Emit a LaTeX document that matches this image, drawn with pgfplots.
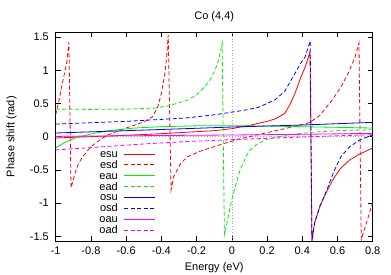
\documentclass[border=0pt]{standalone}
\usepackage{fontspec}
\setmainfont{Liberation Sans}
\usepackage{pgfplots}
\pgfplotsset{compat=1.18}
\definecolor{cR}{RGB}{255,0,0}
\definecolor{cG}{RGB}{0,238,0}
\definecolor{cB}{RGB}{0,0,255}
\definecolor{cM}{RGB}{255,0,255}
\begin{document}
\fontsize{11}{13}\selectfont
\begin{tikzpicture}
\useasboundingbox (-55.7pt,-33pt) rectangle (335.3pt,241pt);
\begin{axis}[
  scale only axis, width=317pt, height=208.7pt,
  xmin=-1, xmax=0.8, ymin=-1.5708, ymax=1.5708,
  xtick={-1,-0.8,-0.6,-0.4,-0.2,0,0.2,0.4,0.6,0.8},
  ytick={-1.5,-1,-0.5,0,0.5,1,1.5},
  tick align=inside, major tick length=5pt,
  minor tick num=0,
  /pgf/number format/assume math mode=true,
  tick label style={font=\fontsize{11}{13}\selectfont},
  xticklabel style={yshift=-2pt},
  yticklabel style={xshift=-3pt},
  axis line style={line width=0.8pt},
  tick style={line width=0.6pt, black},
  xlabel={Energy (eV)},
  ylabel={Phase shift (rad)},
  xlabel style={at={(axis description cs:0.5,-0.128)}, anchor=center},
  ylabel style={at={(axis description cs:-0.139,0.5)}, anchor=center},
  every axis plot/.append style={line width=0.8pt},
  clip=true,
]
\addplot[draw=gray!70, dotted, line width=0.6pt, forget plot] coordinates {(-1,0) (0.8,0)};
\addplot[draw=gray!70, dotted, line width=0.6pt, forget plot] coordinates {(0,-1.5708) (0,1.5708)};
% esu
\addplot[draw=cR] coordinates {
(-1,-0.02) (-0.8,0.0) (-0.6,0.02) (-0.4,0.045) (-0.265,0.065) (-0.1,0.09) (0,0.12) (0.1,0.17) (0.2,0.23)
(0.25,0.27) (0.3,0.35) (0.33,0.48) (0.36,0.66) (0.39,0.88) (0.42,1.07) (0.444,1.28)
(0.455,-1.57) (0.47,-1.3) (0.5,-1.05) (0.54,-0.82) (0.58,-0.62) (0.62,-0.47) (0.67,-0.35) (0.72,-0.27) (0.8,-0.17)};
% esd
\addplot[draw=cR, dash pattern=on 4pt off 2.5pt] coordinates {
(-1,0.33) (-0.985,0.5) (-0.966,0.755) (-0.938,1.105) (-0.925,1.42) (-0.913,-0.77)
(-0.89,-0.55) (-0.87,-0.4) (-0.84,-0.28) (-0.8,-0.15) (-0.75,-0.05) (-0.7,0.03) (-0.6,0.13) (-0.5,0.22)
(-0.45,0.3) (-0.42,0.45) (-0.4,0.65) (-0.38,0.95) (-0.37,1.2) (-0.361,1.53) (-0.345,-0.8)
(-0.33,-0.6) (-0.31,-0.5) (-0.29,-0.4) (-0.25,-0.3) (-0.18,-0.22) (-0.1,-0.15) (-0.04,-0.1) (0.05,-0.03)
(0.19,0.055) (0.3,0.12) (0.44,0.21) (0.5,0.32) (0.53,0.42) (0.57,0.55) (0.62,0.75) (0.66,0.95) (0.7,1.2) (0.722,1.41)
(0.735,-1.55) (0.77,-1.25) (0.8,-0.99)};
% eau
\addplot[draw=cG] coordinates {
(-1,-0.17) (-0.95,-0.09) (-0.89,-0.02) (-0.8,0.04) (-0.7,0.09) (-0.55,0.13) (-0.4,0.15) (-0.2,0.163)
(0,0.165) (0.2,0.16) (0.5,0.145) (0.8,0.13)};
% ead
\addplot[draw=cG, dash pattern=on 4pt off 2.5pt] coordinates {
(-1,0.415) (-0.8,0.41) (-0.6,0.415) (-0.436,0.43) (-0.35,0.47) (-0.247,0.555) (-0.2,0.63) (-0.152,0.755)
(-0.12,0.87) (-0.095,1.0) (-0.075,1.15) (-0.055,1.405) (-0.042,-1.47) (-0.02,-1.2) (0.0,-0.945) (0.02,-0.75)
(0.047,-0.5) (0.085,-0.28) (0.103,-0.2) (0.15,-0.1) (0.2,-0.04) (0.3,0.02) (0.45,0.065) (0.6,0.09) (0.8,0.105)};
% osu
\addplot[draw=cB] coordinates {
(-1,0.055) (-0.6,0.09) (-0.265,0.12) (0,0.145) (0.4,0.175) (0.8,0.215)};
% osd
\addplot[draw=cB, dash pattern=on 4pt off 2.5pt] coordinates {
(-1,0.19) (-0.6,0.23) (-0.265,0.28) (-0.095,0.33) (0.076,0.4) (0.15,0.44) (0.245,0.555) (0.3,0.68)
(0.359,0.955) (0.39,1.1) (0.416,1.2) (0.445,1.44) (0.455,-1.57) (0.47,-1.3) (0.5,-1.05) (0.54,-0.8)
(0.58,-0.52) (0.62,-0.3) (0.67,-0.15) (0.72,-0.06) (0.8,0.03)};
% oau
\addplot[draw=cM] coordinates {
(-1,0.005) (-0.5,0.015) (0,0.025) (0.4,0.035) (0.8,0.05)};
% oad
\addplot[draw=cM, dash pattern=on 4pt off 2.5pt] coordinates {
(-1,-0.2) (-0.5,-0.11) (-0.265,-0.075) (0,-0.045) (0.4,-0.005) (0.8,0.03)};
% legend samples
\addplot[draw=cR, line width=1pt] coordinates {(-0.612,-0.262) (-0.436,-0.262)};
\addplot[draw=cR, line width=1pt, dash pattern=on 4pt off 2.5pt] coordinates {(-0.612,-0.426) (-0.436,-0.426)};
\addplot[draw=cG, line width=1pt] coordinates {(-0.612,-0.589) (-0.436,-0.589)};
\addplot[draw=cG, line width=1pt, dash pattern=on 4pt off 2.5pt] coordinates {(-0.612,-0.753) (-0.436,-0.753)};
\addplot[draw=cB, line width=1pt] coordinates {(-0.612,-0.916) (-0.436,-0.916)};
\addplot[draw=cB, line width=1pt, dash pattern=on 4pt off 2.5pt] coordinates {(-0.612,-1.080) (-0.436,-1.080)};
\addplot[draw=cM, line width=1pt] coordinates {(-0.612,-1.243) (-0.436,-1.243)};
\addplot[draw=cM, line width=1pt, dash pattern=on 4pt off 2.5pt] coordinates {(-0.612,-1.407) (-0.436,-1.407)};
\node[anchor=mid east, inner sep=0pt, text=black] at (axis cs:-0.646,-0.27) {esu};
\node[anchor=mid east, inner sep=0pt, text=black] at (axis cs:-0.646,-0.4335) {esd};
\node[anchor=mid east, inner sep=0pt, text=black] at (axis cs:-0.646,-0.597) {eau};
\node[anchor=mid east, inner sep=0pt, text=black] at (axis cs:-0.646,-0.7605) {ead};
\node[anchor=mid east, inner sep=0pt, text=black] at (axis cs:-0.646,-0.924) {osu};
\node[anchor=mid east, inner sep=0pt, text=black] at (axis cs:-0.646,-1.0875) {osd};
\node[anchor=mid east, inner sep=0pt, text=black] at (axis cs:-0.646,-1.251) {oau};
\node[anchor=mid east, inner sep=0pt, text=black] at (axis cs:-0.646,-1.4145) {oad};
\end{axis}
\node[font=\fontsize{11}{13}\selectfont] at (158.5pt,224.7pt) {Co (4,4)};
\end{tikzpicture}
\end{document}
